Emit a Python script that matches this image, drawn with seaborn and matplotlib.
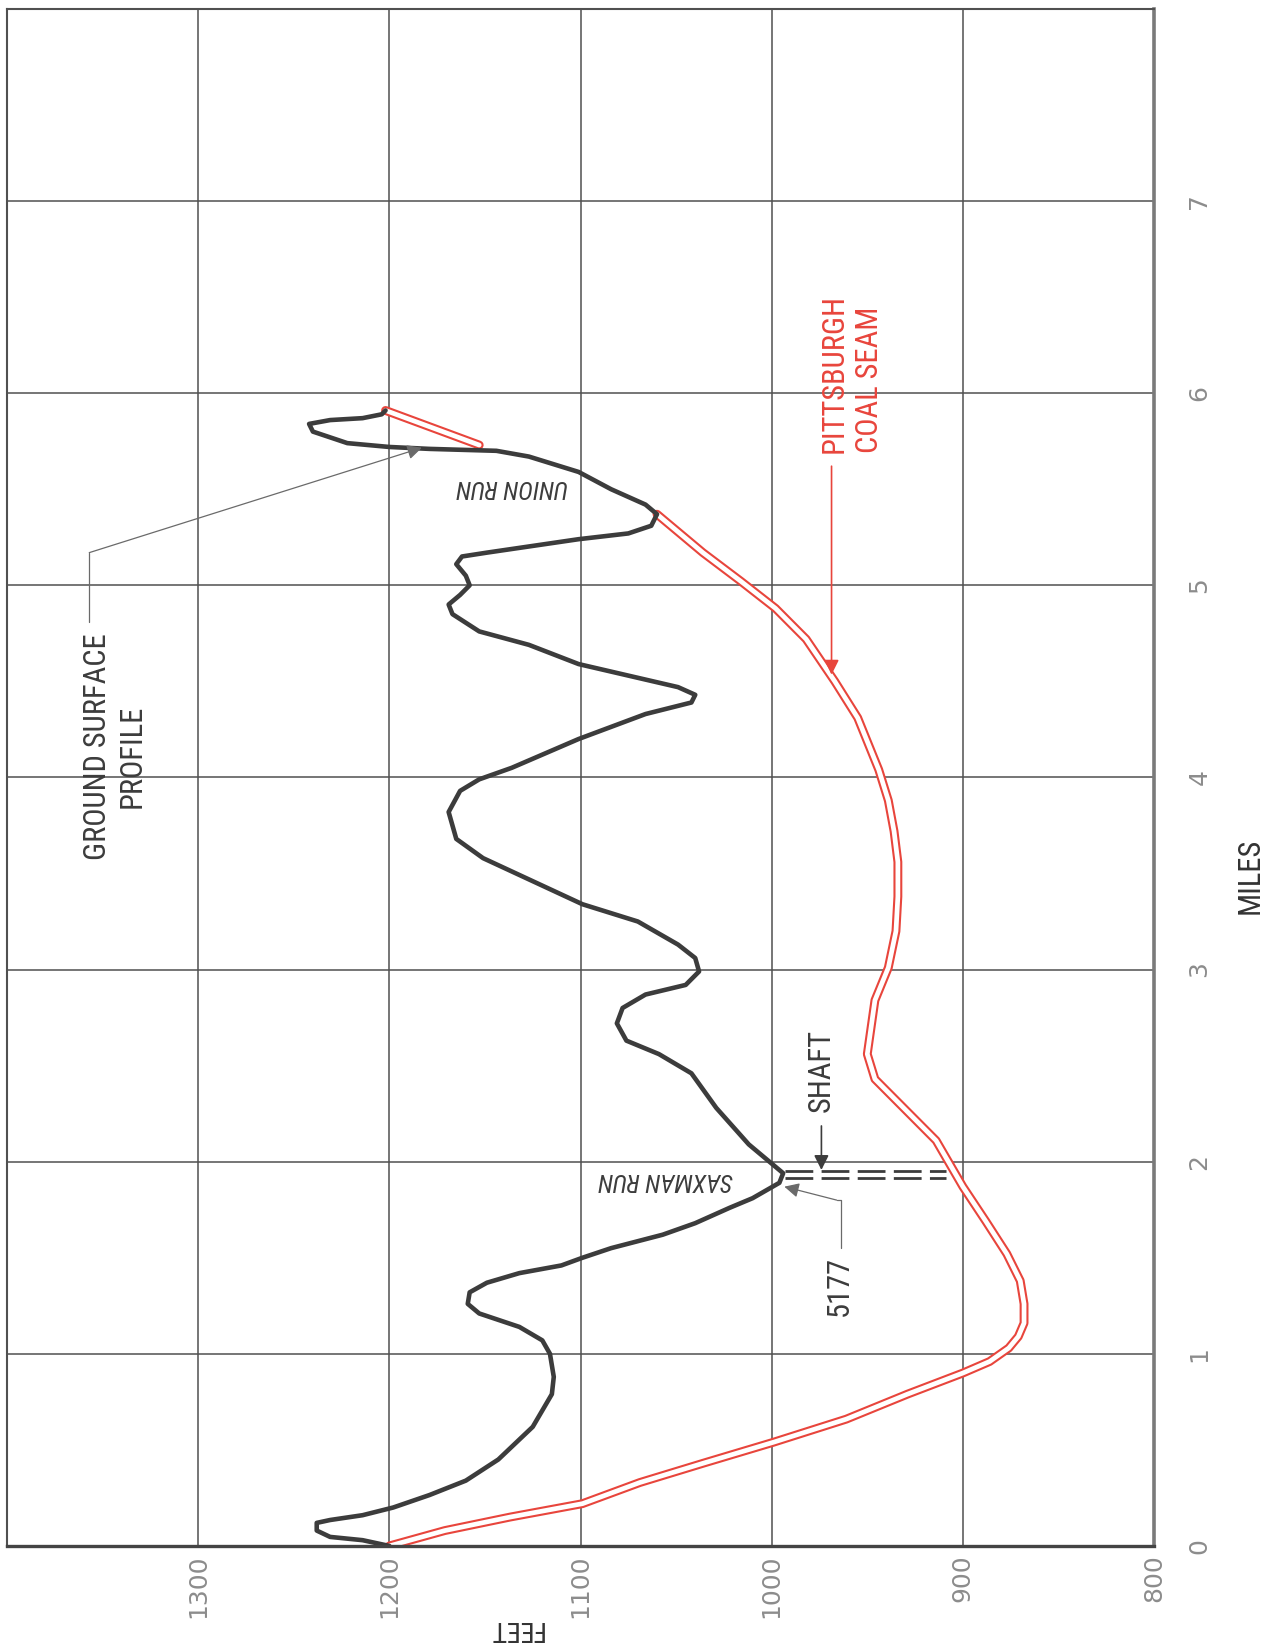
import matplotlib
matplotlib.use('Agg')
import matplotlib.pyplot as plt
import seaborn as sns
import pandas as pd
from matplotlib import font_manager as fm

# Profile along the section line.
# feet = elevation, miles = distance along the section
ground_feet = [1200, 1214, 1231, 1238, 1238, 1231, 1214, 1198, 1179, 1160, 1143, 1125, 1115, 1114,
               1116, 1120, 1132, 1153, 1159, 1158, 1149, 1132, 1110, 1099, 1084, 1057, 1040, 1022,
               1010, 996, 994, 1000, 1012, 1029, 1042, 1059, 1076, 1081, 1078, 1066, 1045, 1038,
               1040, 1049, 1070, 1099, 1125, 1151, 1165, 1169, 1163, 1153, 1136, 1101, 1066, 1042,
               1040, 1049, 1075, 1101, 1127, 1153, 1167, 1169, 1163, 1158, 1160, 1165, 1162, 1149,
               1101, 1075, 1063, 1060, 1066, 1084, 1101, 1127, 1144, 1179, 1200, 1222, 1240, 1242,
               1231, 1214, 1204, 1202]
ground_miles = [0.00, 0.03, 0.047, 0.08, 0.12, 0.135, 0.16, 0.20, 0.265, 0.34, 0.45, 0.62, 0.79, 0.88,
                1.00, 1.07, 1.14, 1.21, 1.26, 1.32, 1.37, 1.42, 1.46, 1.50, 1.55, 1.62, 1.68, 1.76,
                1.81, 1.89, 1.94, 1.99, 2.09, 2.28, 2.46, 2.56, 2.63, 2.72, 2.80, 2.87, 2.92, 2.99,
                3.06, 3.13, 3.25, 3.34, 3.46, 3.58, 3.68, 3.82, 3.93, 3.99, 4.05, 4.20, 4.33, 4.39,
                4.43, 4.47, 4.53, 4.59, 4.69, 4.76, 4.85, 4.90, 4.95, 5.00, 5.05, 5.11, 5.15, 5.17,
                5.24, 5.27, 5.31, 5.37, 5.42, 5.50, 5.59, 5.67, 5.70, 5.71, 5.72, 5.74, 5.80, 5.84,
                5.86, 5.87, 5.89, 5.91]

seam_feet = [1200, 1171, 1137, 1099, 1069, 1036, 999, 961, 929, 900, 886, 876, 871, 868, 868, 870,
             877, 888, 900, 907, 914, 928, 946, 950, 948, 946, 939, 935, 934, 934, 936, 939, 944,
             955, 967, 982, 998, 1016, 1036, 1060]
seam_miles = [0.00, 0.08, 0.15, 0.22, 0.33, 0.43, 0.54, 0.66, 0.79, 0.90, 0.96, 1.03, 1.09, 1.16, 1.26,
              1.38, 1.52, 1.69, 1.87, 1.99, 2.11, 2.25, 2.43, 2.56, 2.70, 2.84, 3.01, 3.20, 3.38, 3.56,
              3.72, 3.88, 4.04, 4.31, 4.50, 4.72, 4.88, 5.02, 5.17, 5.37]
seam_tail_feet = [1202, 1153]
seam_tail_miles = [5.91, 5.73]

# the shaft, drawn as two dashed lines at Saxman Run
shaft_feet = [993, 909]
shaft_miles = [1.952, 1.916]

feet_ticks = [800, 900, 1000, 1100, 1200, 1300]
mile_ticks = [0, 1, 2, 3, 4, 5, 6, 7]

INK = '#3c3c3c'
RED = '#e8453c'
GRID = '#505050'

sns.set_theme(style='white')


def narrow_font():
    for name in ['Liberation Sans Narrow', 'Roboto Condensed', 'Open Sans Condensed']:
        try:
            fm.findfont(fm.FontProperties(family=name), fallback_to_default=False)
            return name, 'normal', 1.0
        except ValueError:
            pass
    path = fm.findfont(fm.FontProperties(family='DejaVu Sans', stretch='condensed'))
    if 'Condensed' in path:
        return 'DejaVu Sans', 'condensed', 0.85
    return 'DejaVu Sans', 'normal', 0.76


ann_family, ann_stretch, k = narrow_font()
plt.rcParams['font.family'] = ['DejaVu Sans']

fig = plt.figure(figsize=(12.79, 16.52), dpi=100)
ax = fig.add_axes([0.0055, 0.0642, 0.8968, 0.9304])

ground = pd.DataFrame({'feet': ground_feet, 'miles': ground_miles})
seam = pd.DataFrame({'feet': seam_feet, 'miles': seam_miles})
seam_tail = pd.DataFrame({'feet': seam_tail_feet, 'miles': seam_tail_miles})

# coal seam as a double red line: wide red stroke with a white core
for part in [seam, seam_tail]:
    sns.lineplot(data=part, x='feet', y='miles', sort=False, estimator=None, ax=ax,
                 color=RED, linewidth=6.4, solid_joinstyle='round')
    sns.lineplot(data=part, x='feet', y='miles', sort=False, estimator=None, ax=ax,
                 color='white', linewidth=3.4, solid_joinstyle='round')

sns.lineplot(data=ground, x='feet', y='miles', sort=False, estimator=None, ax=ax,
             color=INK, linewidth=3.3, solid_joinstyle='round', solid_capstyle='round')

for m in shaft_miles:
    ax.plot(shaft_feet, [m, m], color=INK, linewidth=2.0, linestyle=(0, (10, 3)))

ax.set_xlim(1400, 800)
ax.set_ylim(0, 8)
ax.set_xlabel('')
ax.set_ylabel('')
ax.set_axisbelow(True)
ax.grid(True, color=GRID, linewidth=1.1)

ax.set_xticks(feet_ticks)
ax.set_xticklabels([str(v) for v in feet_ticks], rotation=90)
ax.yaxis.tick_right()
ax.set_yticks(mile_ticks)
ax.set_yticklabels([str(v) for v in mile_ticks], rotation=90, va='center')
ax.tick_params(axis='x', length=0, pad=6, labelsize=18, labelcolor='#8c8c8c')
ax.tick_params(axis='y', length=0, pad=24, labelsize=18, labelcolor='#8c8c8c')

for side, lw, col in [('top', 1.5, GRID), ('left', 1.5, GRID), ('bottom', 2.4, '#444444'),
                      ('right', 2.6, '#7a7a7a')]:
    ax.spines[side].set_visible(True)
    ax.spines[side].set_linewidth(lw)
    ax.spines[side].set_color(col)


def note(x, y, s, size, rot=90, color=INK, ha='center', **kw):
    ax.text(x, y, s, rotation=rot, rotation_mode='anchor', ha=ha, va='center',
            fontsize=size * k, color=color, family=ann_family, fontstretch=ann_stretch,
            clip_on=False, **kw)


def leader(xs, ys, color, lw=0.9):
    ax.plot(xs[:-1], ys[:-1], color=color, linewidth=lw)
    ax.annotate('', xy=(xs[-1], ys[-1]), xytext=(xs[-2], ys[-2]),
                arrowprops=dict(arrowstyle='-|>', color=color, lw=lw, mutation_scale=22,
                                shrinkA=0, shrinkB=0))


# labels and leaders
note(1352.7, 4.16, 'GROUND SURFACE', 22)
note(1334.4, 4.11, 'PROFILE', 22)
leader([1357, 1357, 1183], [4.81, 5.17, 5.716], '#6a6a6a')

note(967.3, 5.69, 'PITTSBURGH', 22, color=RED, ha='left')
note(949.0, 5.69, 'COAL SEAM', 22, color=RED, ha='left')
leader([968.7, 968.7], [5.62, 4.535], RED, lw=1.2)

note(974.0, 2.26, 'SHAFT', 22, ha='left')
leader([974.0, 974.0], [2.186, 1.957], INK, lw=1.2)

note(964.6, 1.353, '5177', 22)
leader([963.6, 963.6, 966.0, 993.4], [1.551, 1.80, 1.80, 1.87], '#6a6a6a')

note(1055.6, 1.905, 'SAXMAN RUN', 18, rot=180, style='italic')
note(1136.0, 5.51, 'UNION RUN', 18, rot=180, style='italic')

note(750.0, 3.49, 'MILES', 22, color='#333333')
note(1134.0, -0.43, 'FEET', 20, rot=180, color='#333333')

fig.savefig('out.png', dpi=100)
